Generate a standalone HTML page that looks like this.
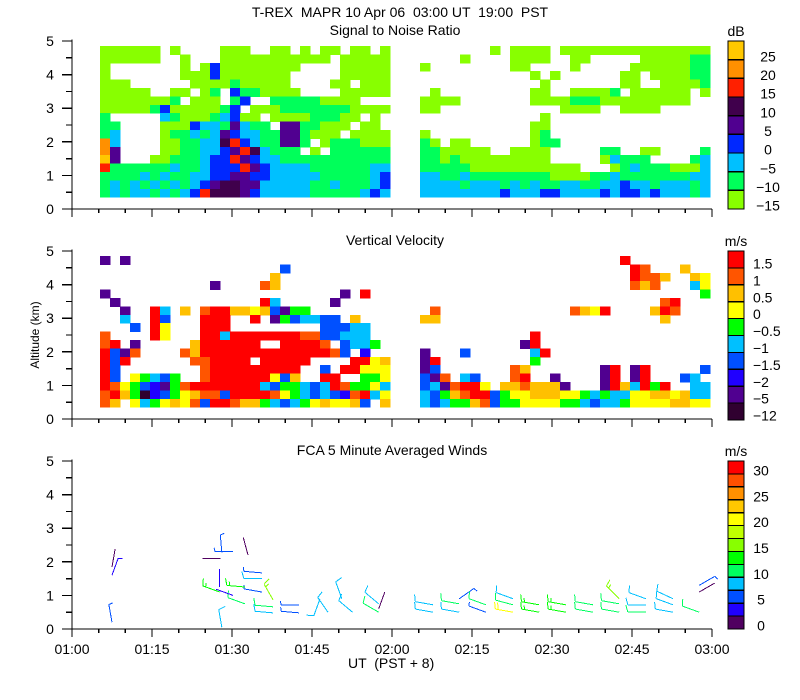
<!DOCTYPE html>
<html><head><meta charset="utf-8"><title>T-REX MAPR</title>
<style>
html,body{margin:0;padding:0;background:#fff;}
svg{display:block;font-family:"Liberation Sans",sans-serif;}
text{font-size:14px;fill:#000;}
</style></head>
<body>
<svg id="chart" width="800" height="700" viewBox="0 0 800 700" xmlns="http://www.w3.org/2000/svg" shape-rendering="crispEdges">
<text x="400" y="17" text-anchor="middle" style="white-space:pre">T-REX  MAPR 10 Apr 06  03:00 UT  19:00  PST</text>
<text x="395" y="35" text-anchor="middle">Signal to Noise Ratio</text>
<text x="395" y="245" text-anchor="middle">Vertical Velocity</text>
<text x="392" y="455" text-anchor="middle">FCA 5 Minute Averaged Winds</text>
<text x="0" y="0" text-anchor="middle" style="font-size:12px" transform="translate(39,335) rotate(-90)">Altitude (km)</text>
<text x="348" y="668" style="white-space:pre">UT  (PST + 8)</text>
<g id="layer"></g>
</svg>
<script>
// ---- data ----
const altTicks = [0,1,2,3,4,5];
const timeTickLabels = ["01:00","01:15","01:30","01:45","02:00","02:15","02:30","02:45","03:00"];
const snrLevels = ["25","20","15","10","5","0","\u22125","\u221210","\u221215"];
const snrCodes = ["i","h","g","f","e","d","c","b","a"];
const vvLevels = ["1.5","1","0.5","0","\u22120.5","\u22121","\u22121.5","\u22122","\u22125","\u221212"];
const vvCodes = ["9","8","7","6","5","4","3","2","1","0"];
const windLevels = ["30","","25","","20","","15","","10","","5","","0"];
const snrLeft = [
"aaaaaa.a....aaa..aa.a.aa.aa.a",
"aaaaaa..a...aaaaaaaaaaa.aaaaa",
"a.......a.adaaaaaaaa....aaaaa",
"a.......aaadaaaaaaa.....aaaaa",
"aaa......aaaabaaaaa....aa.aaa",
"aaaaa..aa.ab.dbbaaaa....aaaaa",
"aaaaaaab.aaa.bd..bbbbbaaaa...",
"aaaaabdaaaaabd.aaabbbbbbbaaaa",
"b.....cbaaabcdaa.aaaabbbaa.a.",
"bb....aaadccbecbb.eebbaaa.aa.",
"bc....abbcbcedccbbeebaaa.aaaa",
"hc....aabbccfgdcbbeeb.abbbaaa",
"he....aabbccdegfcbbb.a.bbbbbb",
"ie...aabbbcddgedccbbbbbbbbbbb",
"gbbbbbbcbbcdddgedccccbbbbbbcc",
"bbbbcbcbbccddeeddcccccbbbbbcd",
"bcbcbcbcbcdeffeecccccbbcbbbcd",
"bcbccbcbcdgfffedcccccbbbbbcdc"];
const snrRight = [
".......a.aaaa.aaaaaaaaaaaaaaa",
"....a....aaaa..aa.....aaaaabb",
"a........aa....a.....aaaaaabb",
"...........a.a......aa.aaaabb",
"............a.......aa..aaaab",
".a.........aa..aaaab.aaaaaa.a",
"aaaa.......aaaabbbaaaaaaaaa..",
"aa............aaaa..aaaa.....",
"............a................",
"...........aa................",
"a..........ab................",
"ba.aa......abb...............",
"bbaaaaa..aaaa.....bb..aa....b",
"bbabaaaaaaaaa.....acbbb....bc",
"bbbbbaaaaaaaaaaa...abcbbbaaac",
"ccbbcbbbbbbbbaaaabbcbbbbbbbcc",
"ccccbcccbcbcbbccbbccdccbcccbc",
"ccccccccdcccddccccdcddcdcccbc"];
const vvLeft = [
"1.1..........................",
"..................3..........",
".................7...........",
"...........1....87...........",
"1.......................1.9..",
".1..............94.....1.....",
"..1..94.7.89977673155........",
"..4..93...999..9.1534433.7...",
"...3.96...999.........33344..",
"8....96...99499999998833444..",
"89.1.....7999999..99998.3445.",
"9318....87999999999999983.2..",
"939......889999.99999....9967",
"93........8999999999..3.99666",
"93.65435..8999999637..99..556",
"98653215899999994355434985564",
"89750235678839999865434328946",
"87.645676839987754345676673.7"];
const vvRight = [
"....................9........",
".....................98...7..",
".....................9887..76",
".....................878...46",
"............................5",
"........................89...",
".8.............8769....798...",
"77......................7....",
".............................",
"...........9.................",
"..........19.................",
"1...3......49................",
"19.........5.................",
"13.......87.......19.19.....3",
"318.43...89..1....19.19...34",
"3418996.7787771...1974959..44",
"43578993566777665454466776744",
"43455783556666554344566667766"];
const barbTime  = [67.7,67.7,72.6,72.6,72.6,77.6,77.6,82.7,82.7,82.7,87.6,87.6,92.6,92.6,97.7,97.7,102.6,102.6,102.6,107.6,107.6,107.6,112.7,112.7,112.7,117.6,117.6,117.6,
 42.6,42.6,37.7,37.7,37.7,35.6,35.6,35.6,33,32.4,32.4,30.2,28.1,30.2,27.8,27.7,27.7,28.1,48,46.5,52.6,50.6,57.5,57.5,57.5,7.5,7.5,7.5];
const barbAlt   = [0.72,0.5,0.75,0.5,0.9,0.72,0.5,0.9,0.72,0.5,0.72,0.5,0.72,0.5,0.72,0.5,0.9,0.75,0.5,0.9,0.72,0.5,0.9,0.72,0.5,0.5,1.3,1.1,
 0.72,0.48,0.66,0.48,0.87,1.1,1.5,1.67,2.2,0.75,1.25,1.0,2.27,2.3,2.1,1.25,1.1,0.05,0.5,0.9,0.5,0.9,0.75,0.5,0.6,1.6,1.85,0.2];
const barbSpeed = [7.5,7.5,10,7.5,5,10,5,7.5,10,20,12.5,12.5,12.5,12.5,10,10,15,10,10,7.5,7.5,10,7.5,7.5,7.5,10,5,1,
 5,5,10,7.5,15,5,7.5,5,1,10,12.5,2,5,5,1,2,12.5,7.5,7.5,7.5,7.5,7.5,7.5,10,1,3,1,5];
const barbDir   = [280,280,280,280,55,290,290,290,285,280,280,280,280,280,280,280,315,280,280,290,270,270,295,290,280,290,60,60,
 270,275,275,275,330,280,270,275,345,290,275,290,355,270,270,360,290,350,325,200,310,340,310,300,20,20,10,350];

// ---- helpers / axes ----
const NS = "http://www.w3.org/2000/svg";
const layer = document.getElementById("layer");
const X0 = 72, X1 = 712, PXKM = 33.6;
const bases = [209, 419, 629];
function xOf(t){ return X0 + t * (X1 - X0) / 120; }
function yOf(a, p){ return bases[p] - a * PXKM; }
function mk(tag, attrs, parent){
  const e = document.createElementNS(NS, tag);
  for (const k in attrs) e.setAttribute(k, attrs[k]);
  (parent || layer).appendChild(e);
  return e;
}
const snrColor = {a:"#88ff00",b:"#00ff5a",c:"#00c0ff",d:"#0028ff",e:"#500090",f:"#40004c",g:"#ff2000",h:"#ff9000",i:"#ffc800"};
const vvColor = {"9":"#ff0000","8":"#ff5500","7":"#ffc000","6":"#ffff00","5":"#00ff00","4":"#00c0ff","3":"#0050ff","2":"#2000ff","1":"#500090","0":"#300030"};
const windColors = ["#ff0000","#ff5000","#ff9000","#ffc800","#ffff00","#c0ff00","#88ff00","#00ff00","#00ff60","#00c0ff","#0050ff","#2000ff","#500060"];
function windColor(s){ let k = Math.round(s/2.5); if(k<0)k=0; if(k>12)k=12; return windColors[12-k]; }

function heat(rows, t0, cmap, p, name){
  const g = mk("g", {});
  
  
  const dt = 1.875, dA = 0.25;
  rows.forEach((row, r) => {
    const aTop = 4.85 - r*dA;
    for (let i = 0; i < 29; i++) {
      const c = row.charAt(i);
      if (!cmap[c]) continue;
      const x = xOf(t0 + i*dt), w = xOf(t0 + (i+1)*dt) - x;
      const y = yOf(aTop, p), h = dA*PXKM;
      const cell = mk("rect", {x:x, y:y, width:w+0.5, height:h+0.5, fill:cmap[c]}, g);
      
      
    }
  });
}
heat(snrLeft, 5.25, snrColor, 0, "snr-left-block");
heat(snrRight, 65.25, snrColor, 0, "snr-right-block");
heat(vvLeft, 5.25, vvColor, 1, "vv-left-block");
heat(vvRight, 65.25, vvColor, 1, "vv-right-block");

// axes
for (let p = 0; p < 3; p++) {
  const g = mk("g", {stroke:"#000", "stroke-width":"1.3"});
  
  
  mk("line", {x1:X0, y1:yOf(5.05,p), x2:X0, y2:bases[p]}, g);
  mk("line", {x1:X0, y1:bases[p], x2:X1, y2:bases[p]}, g);
  for (let a = 0; a <= 5; a += 0.5) {
    const major = Math.abs(a - Math.round(a)) < 1e-6;
    mk("line", {x1:X0 - (major ? 10 : 6), y1:yOf(a,p), x2:X0, y2:yOf(a,p)}, g);
  }
  for (let t = 0; t <= 120; t += 5) {
    const major = t % 15 === 0;
    mk("line", {x1:xOf(t), y1:bases[p], x2:xOf(t), y2:bases[p] + (major ? 8 : 4)}, g);
  }
  altTicks.forEach(a => {
    const tx = mk("text", {x:50, y:yOf(a,p)+5, "text-anchor":"middle"});
    
    
    tx.textContent = a;
  });
}
timeTickLabels.forEach((lab, i) => {
  const tx = mk("text", {x:xOf(i*15), y:654, "text-anchor":"middle"});
  
  
  tx.textContent = lab;
});

// colorbars
function colorbar(top, bottom, colors, labels, unit, name, lx, anchor, off){
  const g = mk("g", {});
  
  
  const n = colors.length, h = (bottom - top)/n;
  colors.forEach((c, i) => {
    const r = mk("rect", {x:728, y:top + i*h, width:16, height:h, fill:c, stroke:"#000", "stroke-width":"1.2"}, g);
    
    
  });
  labels.forEach((l, i) => {
    if (!l) return;
    const t = mk("text", {x:lx, y:top + (i+0.5)*h + off, "text-anchor":anchor}, g);
    
    
    t.textContent = l;
  });
  const u = mk("text", {x:736, y:top - 5, "text-anchor":"middle"}, g);
  
  
  u.textContent = unit;
}
colorbar(41, 209, snrCodes.map(c => snrColor[c]), snrLevels, "dB", "snr-colorbar", 768, "middle", 11);
colorbar(251, 420, vvCodes.map(c => vvColor[c]), vvLevels, "m/s", "vv-colorbar", 753, "start", 9);
colorbar(461, 629, windColors, windLevels, "m/s", "wind-colorbar", 761, "middle", 8);

// wind barbs
barbTime.forEach((t, i) => {
  const x = xOf(t), y = yOf(barbAlt[i], 2), s = barbSpeed[i], d = barbDir[i]*Math.PI/180;
  const ux = Math.sin(d), uy = -Math.cos(d), L = 18;
  const col = windColor(s);
  const g = mk("g", {stroke:col, "stroke-width":"1", fill:"none"});
  
  
  const ex = x + ux*L, ey = y + uy*L;
  mk("line", {x1:x, y1:y, x2:ex, y2:ey}, g);
  const nFull = Math.floor((s + 2.5)/10), half = ((s + 2.5) % 10) >= 5;
  const px = -uy, py = ux;
  let k = 0;
  for (; k < nFull; k++) {
    const bx = ex - ux*k*3, by = ey - uy*k*3;
    mk("line", {x1:bx, y1:by, x2:bx + px*7 + ux*2, y2:by + py*7 + uy*2}, g);
  }
  if (half) {
    const bx = ex - ux*k*3, by = ey - uy*k*3;
    mk("line", {x1:bx, y1:by, x2:bx + px*4 + ux*1, y2:by + py*4 + uy*1}, g);
  }
});
</script>
</body></html>
